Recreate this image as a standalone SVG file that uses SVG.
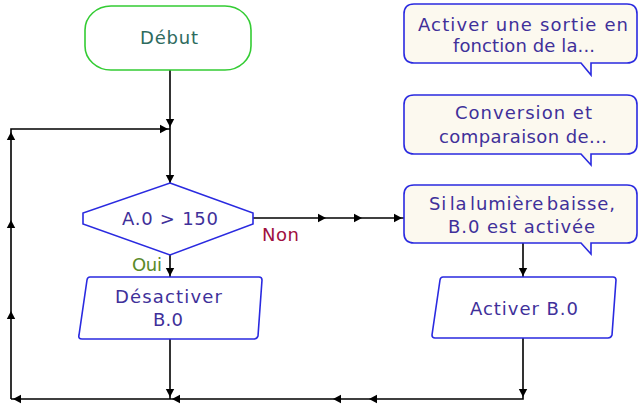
<svg xmlns="http://www.w3.org/2000/svg" xmlns:xlink="http://www.w3.org/1999/xlink" width="641" height="405" viewBox="0 0 641 405">
<style>
  text { font-family: "DejaVu Sans", Verdana, sans-serif; font-size: 18px; }
  .t { fill: #40309a; text-anchor: middle; }
  .box { fill: #ffffff; stroke: #2a2ae0; stroke-width: 1.6; }
  .note { fill: #fcf9ef; stroke: #2a2ae0; stroke-width: 1.6; }
  .ln { fill: none; stroke: #000; stroke-width: 1.6; }
</style>
<defs>
  <path id="ah" d="M0,0 L-8,-4.2 L-8,4.2 Z" fill="#000"/>
</defs>
<rect width="641" height="405" fill="#fff"/>

<g id="connectors">
  <path class="ln" d="M170,70 V183"/>
  <path class="ln" d="M11,399 V129 H170"/>
  <path class="ln" d="M253,218 H404"/>
  <path class="ln" d="M170,255 V277"/>
  <path class="ln" d="M170,339 V399"/>
  <path class="ln" d="M523,243 V277"/>
  <path class="ln" d="M523,338 V399 H11"/>
  <use xlink:href="#ah" transform="translate(170,127) rotate(90)"/>
  <use xlink:href="#ah" transform="translate(168,129)"/>
  <use xlink:href="#ah" transform="translate(170,183) rotate(90)"/>
  <use xlink:href="#ah" transform="translate(11,132) rotate(-90)"/>
  <use xlink:href="#ah" transform="translate(11,220) rotate(-90)"/>
  <use xlink:href="#ah" transform="translate(11,311) rotate(-90)"/>
  <use xlink:href="#ah" transform="translate(13,399) rotate(180)"/>
  <use xlink:href="#ah" transform="translate(172,399) rotate(180)"/>
  <use xlink:href="#ah" transform="translate(333,399) rotate(180)"/>
  <use xlink:href="#ah" transform="translate(369,399) rotate(180)"/>
  <use xlink:href="#ah" transform="translate(170,397) rotate(90)"/>
  <use xlink:href="#ah" transform="translate(523,397) rotate(90)"/>
  <use xlink:href="#ah" transform="translate(326,218)"/>
  <use xlink:href="#ah" transform="translate(362,218)"/>
  <use xlink:href="#ah" transform="translate(402,218)"/>
  <use xlink:href="#ah" transform="translate(170,276) rotate(90)"/>
  <use xlink:href="#ah" transform="translate(523,276) rotate(90)"/>
  <text x="262" y="241" fill="#a01040" textLength="37" lengthAdjust="spacing">Non</text>
  <text x="132" y="271" fill="#5a8a2a" textLength="30" lengthAdjust="spacing">Oui</text>
</g>

<g id="debut">
  <rect x="85" y="6" width="166" height="64" rx="26" ry="24" fill="#fff" stroke="#33cc33" stroke-width="1.6"/>
  <text x="169" y="44" fill="#2e6b5e" text-anchor="middle" textLength="58" lengthAdjust="spacing">Début</text>
</g>

<g id="decision">
  <polygon class="box" points="170,183 253,213 253,224 170,255 83,224 83,213"/>
  <text class="t" x="170" y="225" textLength="96" lengthAdjust="spacing">A.0 &gt; 150</text>
</g>

<g id="desactiver">
  <path class="box" d="M90,277 H259 Q262,277 262,280 L258,336 Q257,339 254,339 H82 Q78,339 79,335 L87,280 Q87.5,277 90,277 Z"/>
  <text class="t" x="168.5" y="303" textLength="107" lengthAdjust="spacing">Désactiver</text>
  <text class="t" x="168" y="326" textLength="30" lengthAdjust="spacing">B.0</text>
</g>

<g id="activer">
  <path class="box" d="M443,277 H613 Q616,277 616,280 L612,335 Q611,338 608,338 H435 Q432,338 432,335 L440,280 Q440.5,277 443,277 Z"/>
  <text class="t" x="524" y="315" textLength="108" lengthAdjust="spacing">Activer B.0</text>
</g>

<g id="note1">
  <path class="note" d="M414,4 H627 Q637,4 637,14 V53 Q637,63 627,63 H591 V75 L581,63 H414 Q404,63 404,53 V14 Q404,4 414,4 Z"/>
  <text class="t" x="523" y="31" textLength="210" lengthAdjust="spacing">Activer une sortie en</text>
  <text class="t" x="524" y="52" textLength="142" lengthAdjust="spacing">fonction de la...</text>
</g>

<g id="note2">
  <path class="note" d="M414,95 H627 Q637,95 637,105 V144 Q637,154 627,154 H591 V165 L581,154 H414 Q404,154 404,144 V105 Q404,95 414,95 Z"/>
  <text class="t" x="523.5" y="119" textLength="137" lengthAdjust="spacing">Conversion et</text>
  <text class="t" x="523" y="143" textLength="168" lengthAdjust="spacing">comparaison de...</text>
</g>

<g id="note3">
  <path class="note" d="M414,185 H627 Q637,185 637,195 V233 Q637,243 627,243 H591 V254 L581,243 H414 Q404,243 404,233 V195 Q404,185 414,185 Z"/>
  <text class="t" x="522" y="210" word-spacing="-4" textLength="186" lengthAdjust="spacing">Si la lumière baisse,</text>
  <text class="t" x="521.5" y="233" textLength="147" lengthAdjust="spacing">B.0 est activée</text>
</g>
</svg>
